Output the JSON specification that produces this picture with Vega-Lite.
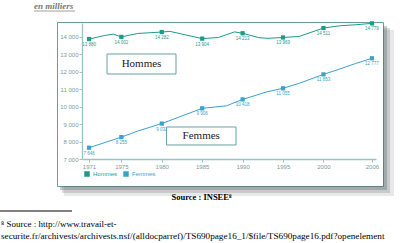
{
  "$schema": "https://vega.github.io/schema/vega-lite/v6.json",
  "width": 326,
  "height": 164,
  "autosize": {"type": "none"},
  "padding": {"left": 57, "top": 22, "right": 20, "bottom": 57},
  "background": "white",
  "config": {
    "view": {"fill": "white", "stroke": "#6d9c9c", "strokeWidth": 1},
    "locale": {"number": {"decimal": ",", "thousands": " ", "grouping": [3], "currency": ["", " €"]}},
    "axis": {
      "labelFont": "Liberation Sans",
      "labelFontSize": 6,
      "labelColor": "#7d9a9a",
      "labelOverlap": false,
      "domainColor": "#9cc3c3",
      "domainWidth": 1.3,
      "tickColor": "#9cc3c3",
      "tickSize": 3,
      "grid": false
    }
  },
  "datasets": {
    "series": [
      {"annee": 1971, "sexe": "Hommes", "valeur": 13880, "repere": true},
      {"annee": 1973, "sexe": "Hommes", "valeur": 14090, "repere": false},
      {"annee": 1974, "sexe": "Hommes", "valeur": 14160, "repere": false},
      {"annee": 1975, "sexe": "Hommes", "valeur": 14002, "repere": true},
      {"annee": 1977, "sexe": "Hommes", "valeur": 14200, "repere": false},
      {"annee": 1980, "sexe": "Hommes", "valeur": 14282, "repere": true},
      {"annee": 1981, "sexe": "Hommes", "valeur": 14320, "repere": false},
      {"annee": 1985, "sexe": "Hommes", "valeur": 13904, "repere": true},
      {"annee": 1987, "sexe": "Hommes", "valeur": 13970, "repere": false},
      {"annee": 1989, "sexe": "Hommes", "valeur": 14290, "repere": false},
      {"annee": 1990, "sexe": "Hommes", "valeur": 14213, "repere": true},
      {"annee": 1992, "sexe": "Hommes", "valeur": 13960, "repere": false},
      {"annee": 1993, "sexe": "Hommes", "valeur": 13920, "repere": false},
      {"annee": 1995, "sexe": "Hommes", "valeur": 13969, "repere": true},
      {"annee": 1997, "sexe": "Hommes", "valeur": 14030, "repere": false},
      {"annee": 2000, "sexe": "Hommes", "valeur": 14511, "repere": true},
      {"annee": 2002, "sexe": "Hommes", "valeur": 14640, "repere": false},
      {"annee": 2004, "sexe": "Hommes", "valeur": 14700, "repere": false},
      {"annee": 2006, "sexe": "Hommes", "valeur": 14779, "repere": true},
      {"annee": 1971, "sexe": "Femmes", "valeur": 7646, "repere": true},
      {"annee": 1975, "sexe": "Femmes", "valeur": 8255, "repere": true},
      {"annee": 1977, "sexe": "Femmes", "valeur": 8600, "repere": false},
      {"annee": 1980, "sexe": "Femmes", "valeur": 9032, "repere": true},
      {"annee": 1985, "sexe": "Femmes", "valeur": 9906, "repere": true},
      {"annee": 1988, "sexe": "Femmes", "valeur": 10050, "repere": false},
      {"annee": 1990, "sexe": "Femmes", "valeur": 10418, "repere": true},
      {"annee": 1993, "sexe": "Femmes", "valeur": 10850, "repere": false},
      {"annee": 1995, "sexe": "Femmes", "valeur": 11055, "repere": true},
      {"annee": 1997, "sexe": "Femmes", "valeur": 11340, "repere": false},
      {"annee": 2000, "sexe": "Femmes", "valeur": 11853, "repere": true},
      {"annee": 2002, "sexe": "Femmes", "valeur": 12160, "repere": false},
      {"annee": 2004, "sexe": "Femmes", "valeur": 12480, "repere": false},
      {"annee": 2006, "sexe": "Femmes", "valeur": 12777, "repere": true}
    ]
  },
  "layer": [
    {
      "data": {"name": "series"},
      "mark": {"type": "line", "strokeWidth": 1},
      "encoding": {
        "x": {
          "field": "annee", "type": "quantitative",
          "scale": {"domain": [1970.13, 2006.5], "range": [25, 319], "nice": false, "zero": false},
          "axis": {"title": null, "values": [1971, 1975, 1980, 1985, 1990, 1995, 2000, 2006], "format": "d", "labelPadding": 1, "offset": -27, "labelOverlap": false, "labelFlush": false}
        },
        "y": {
          "field": "valeur", "type": "quantitative",
          "scale": {"domain": [7000, 14800], "range": [137, 1], "nice": false, "zero": false},
          "axis": {"title": null, "values": [7000, 8000, 9000, 10000, 11000, 12000, 13000, 14000], "format": ",d", "labelPadding": 1, "offset": -25, "labelOverlap": false, "labelFlush": false, "labelBound": false, "tickCount": 8}
        },
        "color": {
          "field": "sexe", "type": "nominal",
          "scale": {"domain": ["Hommes", "Femmes"], "range": ["#1c9b8d", "#3aa2cc"]},
          "legend": {
            "orient": "none", "legendX": 27, "legendY": 149,
            "direction": "horizontal", "title": null,
            "symbolType": "square", "symbolSize": 16,
            "labelFont": "Liberation Sans", "labelFontSize": 6,
            "labelOffset": 3, "columnPadding": 3, "padding": 0,
            "encode": {
              "symbols": {"update": {"fill": {"scale": "color", "field": "value"}, "stroke": {"value": "transparent"}, "shape": {"value": "square"}}},
              "labels": {"update": {"fill": {"scale": "color", "field": "value"}}}
            }
          }
        }
      }
    },
    {
      "data": {"name": "series"},
      "transform": [{"filter": "datum.repere"}],
      "mark": {"type": "point", "shape": "square", "filled": true, "size": 18, "opacity": 1},
      "encoding": {
        "x": {"field": "annee", "type": "quantitative"},
        "y": {"field": "valeur", "type": "quantitative"},
        "color": {"field": "sexe", "type": "nominal"}
      }
    },
    {
      "data": {"name": "series"},
      "transform": [{"filter": "datum.repere"}],
      "mark": {"type": "text", "font": "Liberation Sans", "fontSize": 4.5, "dy": 6},
      "encoding": {
        "x": {"field": "annee", "type": "quantitative"},
        "y": {"field": "valeur", "type": "quantitative"},
        "text": {"field": "valeur", "type": "quantitative", "format": ",d"},
        "color": {"field": "sexe", "type": "nominal"}
      }
    },
    {
      "data": {"values": [{}]},
      "mark": {"type": "rect", "fill": "#5f6e6e", "opacity": 0.35},
      "encoding": {
        "x": {"datum": 2007.366, "type": "quantitative"},
        "x2": {"datum": 2007.861},
        "y": {"datum": 14627.9, "type": "quantitative"},
        "y2": {"datum": 5222.0}
      }
    },
    {
      "data": {"values": [{}]},
      "mark": {"type": "rect", "fill": "#5f6e6e", "opacity": 0.35},
      "encoding": {
        "x": {"datum": 1967.408, "type": "quantitative"},
        "x2": {"datum": 2007.366},
        "y": {"datum": 5451.5, "type": "quantitative"},
        "y2": {"datum": 5222.0}
      }
    },
    {
      "data": {"values": [{}]},
      "mark": {"type": "rect", "fill": "#5f6e6e", "opacity": 0.25},
      "encoding": {
        "x": {"datum": 2007.366, "type": "quantitative"},
        "x2": {"datum": 2008.232},
        "y": {"datum": 14513.2, "type": "quantitative"},
        "y2": {"datum": 5050.0}
      }
    },
    {
      "data": {"values": [{}]},
      "mark": {"type": "rect", "fill": "#5f6e6e", "opacity": 0.25},
      "encoding": {
        "x": {"datum": 1967.656, "type": "quantitative"},
        "x2": {"datum": 2007.366},
        "y": {"datum": 5451.5, "type": "quantitative"},
        "y2": {"datum": 5050.0}
      }
    },
    {
      "data": {"values": [{}]},
      "mark": {"type": "rect", "fill": "#5f6e6e", "opacity": 0.15},
      "encoding": {
        "x": {"datum": 2007.366, "type": "quantitative"},
        "x2": {"datum": 2008.727},
        "y": {"datum": 14398.5, "type": "quantitative"},
        "y2": {"datum": 4877.9}
      }
    },
    {
      "data": {"values": [{}]},
      "mark": {"type": "rect", "fill": "#5f6e6e", "opacity": 0.15},
      "encoding": {
        "x": {"datum": 1967.903, "type": "quantitative"},
        "x2": {"datum": 2007.366},
        "y": {"datum": 5451.5, "type": "quantitative"},
        "y2": {"datum": 4877.9}
      }
    },
    {
      "data": {"values": [{}]},
      "mark": {"type": "rect", "fill": "white", "stroke": "#6aa0a8", "strokeWidth": 1},
      "encoding": {
        "x": {"datum": 1973.223, "type": "quantitative"},
        "x2": {"datum": 1981.758},
        "y": {"datum": 13022.1, "type": "quantitative"},
        "y2": {"datum": 11875.0}
      }
    },
    {
      "data": {"values": [{}]},
      "mark": {"type": "rect", "fill": "white", "stroke": "#6aa0a8", "strokeWidth": 1},
      "encoding": {
        "x": {"datum": 1980.583, "type": "quantitative"},
        "x2": {"datum": 1989.181},
        "y": {"datum": 8835.3, "type": "quantitative"},
        "y2": {"datum": 7803.0}
      }
    },
    {
      "data": {"values": [{}]},
      "mark": {"type": "text", "text": "Hommes", "font": "Liberation Serif", "fontSize": 11, "color": "#222"},
      "encoding": {
        "x": {"datum": 1977.49, "type": "quantitative"},
        "y": {"datum": 12448.5, "type": "quantitative"}
      }
    },
    {
      "data": {"values": [{}]},
      "mark": {"type": "text", "text": "Femmes", "font": "Liberation Serif", "fontSize": 11, "color": "#222"},
      "encoding": {
        "x": {"datum": 1984.882, "type": "quantitative"},
        "y": {"datum": 8319.1, "type": "quantitative"}
      }
    },
    {
      "data": {"values": [{}]},
      "mark": {"type": "text", "text": "en milliers", "font": "Liberation Serif", "fontSize": 9, "fontStyle": "italic", "fontWeight": "bold", "color": "#777", "align": "left"},
      "encoding": {
        "x": {"datum": 1964.192, "type": "quantitative"},
        "y": {"datum": 15775.0, "type": "quantitative"}
      }
    },
    {
      "data": {"values": [{}]},
      "mark": {"type": "rule", "color": "#888", "strokeWidth": 0.8},
      "encoding": {
        "x": {"datum": 1964.192, "type": "quantitative"},
        "x2": {"datum": 1969.264},
        "y": {"datum": 15488.2, "type": "quantitative"}
      }
    },
    {
      "data": {"values": [{}]},
      "mark": {"type": "text", "text": "Source : INSEE⁸", "font": "Liberation Serif", "fontSize": 8.5, "fontWeight": "bold", "color": "black"},
      "encoding": {
        "x": {"datum": 1984.913, "type": "quantitative"},
        "y": {"datum": 4820.6, "type": "quantitative"}
      }
    },
    {
      "data": {"values": [{}]},
      "mark": {"type": "rule", "color": "black", "strokeWidth": 1},
      "encoding": {
        "x": {"datum": 1959.986, "type": "quantitative"},
        "x2": {"datum": 1968.893},
        "y": {"datum": 4017.6, "type": "quantitative"}
      }
    },
    {
      "data": {"values": [{}]},
      "mark": {"type": "text", "text": "⁸ Source : http://www.travail-et-", "font": "Liberation Serif", "fontSize": 9, "color": "black", "align": "left"},
      "encoding": {
        "x": {"datum": 1960.11, "type": "quantitative"},
        "y": {"datum": 3300.0, "type": "quantitative"}
      }
    },
    {
      "data": {"values": [{}]},
      "mark": {"type": "text", "text": "securite.fr/archivests/archivests.nsf/(alldocparref)/TS690page16_1/$file/TS690page16.pdf?openelement", "font": "Liberation Serif", "fontSize": 9.2, "color": "black", "align": "left"},
      "encoding": {
        "x": {"datum": 1960.11, "type": "quantitative"},
        "y": {"datum": 2600.0, "type": "quantitative"}
      }
    }
  ]
}
